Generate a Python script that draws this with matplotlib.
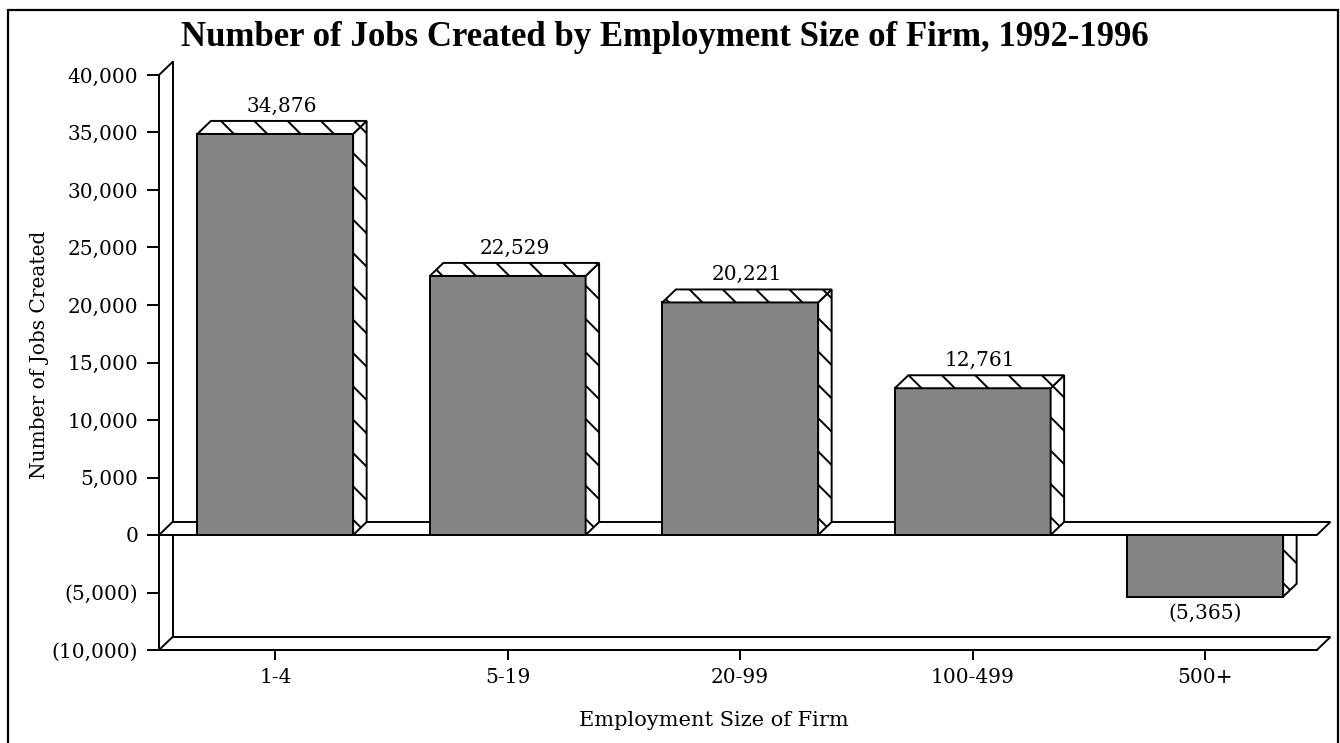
import matplotlib.pyplot as plt
from matplotlib.patches import Polygon, Rectangle

# data
categories = ['1-4', '5-19', '20-99', '100-499', '500+']
jobs = [34876, 22529, 20221, 12761, -5365]
yticks = [-10000, -5000, 0, 5000, 10000, 15000, 20000, 25000, 30000, 35000, 40000]


def fmt(v):
    # accounting style: negatives in brackets
    return f'({abs(v):,})' if v < 0 else f'{v:,}'


plt.rcParams['font.family'] = ['DejaVu Serif']
plt.rcParams['hatch.linewidth'] = 1.4

W, H = 1340, 743
fig = plt.figure(figsize=(W / 100, H / 100), dpi=100, facecolor='white')

# pixel layout: 232.5 px per category, 11.5 px per 1000 jobs, zero at y=535
ax = fig.add_axes([159 / W, (H - 650) / H, (W - 159) / W, (650 - 55) / H])
ax.set_xlim(-0.5, -0.5 + (W - 159) / 232.5)
ax.set_ylim(-10000, (535 - 55) / 0.0115)
ax.patch.set_alpha(0)

dx = 13.5 / 232.5      # depth offset (category units)
dy = 13 / 0.0115       # depth offset (data units)
w = 0.67               # bar width
x0, xr = -0.5, 4.48
lw = 1.4
ymin, ymax = yticks[0], yticks[-1]

# back wall / floor
ax.plot([x0 + dx, x0 + dx], [ymin + dy, ymax + dy], color='black', lw=lw, clip_on=False, zorder=1)
ax.plot([x0, x0 + dx], [ymax, ymax + dy], color='black', lw=lw, clip_on=False, zorder=1)
ax.add_patch(Polygon([(x0, ymin), (xr, ymin), (xr + dx, ymin + dy), (x0 + dx, ymin + dy)],
                     closed=True, facecolor='white', edgecolor='black', lw=lw, clip_on=False, zorder=2))

gray = '#858585'


def draw_bar(i, v, z):
    l, r = i - w / 2, i + w / 2
    ax.bar(i, v, width=w, color=gray, edgecolor='black', lw=lw, zorder=z, clip_on=False)
    ax.add_patch(Polygon([(r, 0), (r + dx, dy), (r + dx, v + dy), (r, v)], closed=True,
                         facecolor='white', edgecolor='black', hatch='\\', lw=lw, zorder=z, clip_on=False))
    if v > 0:
        ax.add_patch(Polygon([(l, v), (l + dx, v + dy), (r + dx, v + dy), (r, v)], closed=True,
                             facecolor='white', edgecolor='black', hatch='\\', lw=lw, zorder=z, clip_on=False))
        ax.text(i + dx / 2, v + dy + 450, fmt(v), ha='center', va='bottom', fontsize=14.5)
    else:
        ax.text(i, v - 650, fmt(v), ha='center', va='top', fontsize=14.5)


for i, v in enumerate(jobs):
    if v < 0:
        draw_bar(i, v, 3)

# zero plane
ax.add_patch(Polygon([(x0, 0), (xr, 0), (xr + dx, dy), (x0 + dx, dy)], closed=True,
                     facecolor='white', edgecolor='black', lw=lw, clip_on=False, zorder=4))

for i, v in enumerate(jobs):
    if v >= 0:
        draw_bar(i, v, 5)

# axes
for s in ['top', 'right']:
    ax.spines[s].set_visible(False)
ax.spines['left'].set_bounds(ymin, ymax)
ax.spines['bottom'].set_bounds(x0, xr)
for s in ['left', 'bottom']:
    ax.spines[s].set_linewidth(lw)
    ax.spines[s].set_zorder(6)

ax.set_yticks(yticks, [fmt(v) for v in yticks])
ax.set_xticks(range(len(categories)), categories)
ax.tick_params(axis='y', length=8.6, width=lw, pad=6.5, labelsize=14.5)
ax.tick_params(axis='x', length=7.2, width=lw, pad=6, labelsize=14.5)

fig.text(665 / W, 1 - 37 / H, 'Number of Jobs Created by Employment Size of Firm, 1992-1996',
         ha='center', va='center', fontsize=25, fontweight='bold',
         family=['Liberation Serif', 'DejaVu Serif'])
fig.text(40 / W, 1 - 355 / H, 'Number of Jobs Created', rotation=90,
         ha='center', va='center', fontsize=14.5)
fig.text(714 / W, 1 - 720 / H, 'Employment Size of Firm', ha='center', va='center', fontsize=15)

fig.patches.append(Rectangle((8 / W, -0.02), (1338 - 8) / W, (H - 10) / H + 0.02,
                             transform=fig.transFigure, fill=False, edgecolor='black', lw=1.6))

fig.savefig('out.png', dpi=100)
